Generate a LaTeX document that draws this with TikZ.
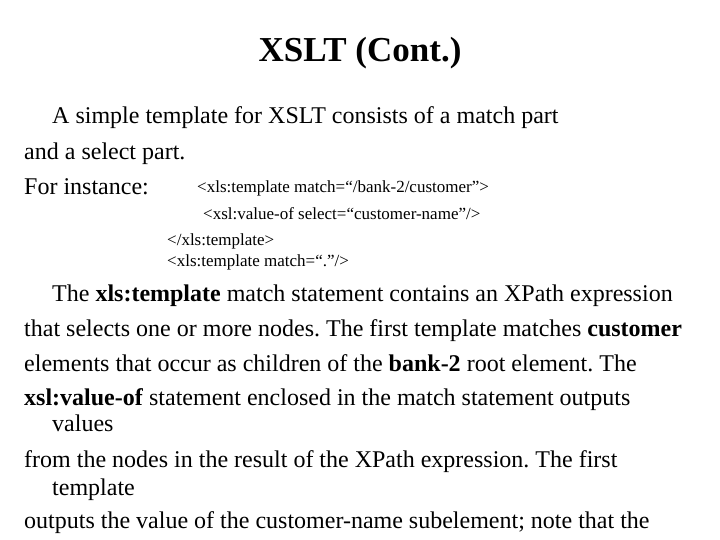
\documentclass[tikz,border=0pt]{standalone}
\usepackage{fontspec}
\setmainfont{Liberation Serif}
\frenchspacing
\begin{document}
\begin{tikzpicture}[x=1pt,y=-1pt,
  txt/.style={anchor=base west,inner sep=0pt,font=\fontsize{24}{28}\selectfont},
  code/.style={anchor=base west,inner sep=0pt,font=\fontsize{17}{20}\selectfont}]
\useasboundingbox (0,0) rectangle (720,540);
\node[anchor=base,inner sep=0pt,font=\fontsize{35}{40}\selectfont\bfseries] (title) at (360,62) {XSLT (Cont.)};
\node[txt] (l1) at (52,124) {A simple template for XSLT consists of a match part};
\node[txt] (l2) at (24,160) {and a select part.};
\node[txt] (l3) at (24,195) {For instance:};
\node[code] (c1) at (197,193) {<xls:template match=“/bank-2/customer”>};
\node[code] (c2) at (203,220) {<xsl:value-of select=“customer-name”/>};
\node[code] (c3) at (167,245) {</xls:template>};
\node[code] (c4) at (167,266) {<xls:template match=“.”/>};
\node[txt] (p1) at (52,301) {The \textbf{xls:template} match statement contains an XPath expression};
\node[txt] (p2) at (24,336) {that selects one or more nodes. The first template matches \textbf{customer}};
\node[txt] (p3) at (24,371) {elements that occur as children of the \textbf{bank-2} root element. The};
\node[txt] (p4) at (24,405) {\textbf{xsl:value-of} statement enclosed in the match statement outputs};
\node[txt] (p5) at (52,431) {values};
\node[txt] (p6) at (24,467) {from the nodes in the result of the XPath expression. The first};
\node[txt] (p7) at (52,495) {template};
\node[txt] (p8) at (24,528) {outputs the value of the customer-name subelement; note that the};
\end{tikzpicture}
\end{document}
